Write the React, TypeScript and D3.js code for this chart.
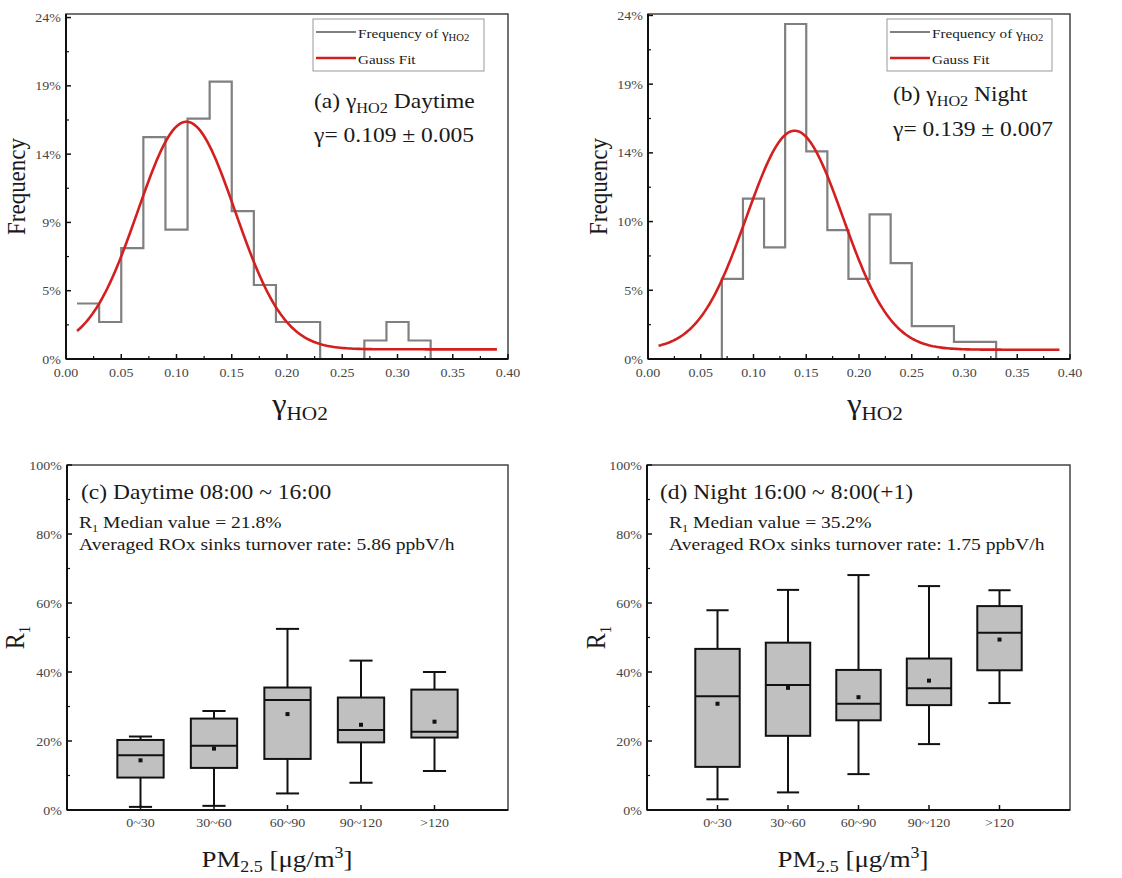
import React from 'react';
import * as d3 from 'd3';

const FONT = "'Liberation Serif','Times New Roman',Times,serif";
const SX = 1.12;

// ---------- Histogram data (frequency in %) ----------
const binEdges = [0.01, 0.03, 0.05, 0.07, 0.09, 0.11, 0.13, 0.15, 0.17, 0.19, 0.21, 0.23, 0.25, 0.27, 0.29, 0.31, 0.33];
const histDay = [3.9, 2.6, 7.8, 15.6, 9.1, 16.9, 19.5, 10.4, 5.2, 2.6, 2.6, 0, 0, 1.3, 2.6, 1.3];
const histNight = [0, 0, 0, 5.6, 11.2, 7.8, 23.4, 14.5, 9.0, 5.6, 10.1, 6.7, 2.3, 2.3, 1.2, 1.2];

// Gauss fit parameters
const gaussDay = { xc: 0.109, sigma: 0.0441, amp: 16.0, y0: 0.68 };
const gaussNight = { xc: 0.139, sigma: 0.0456, amp: 15.3, y0: 0.65 };
const gaussRange = [0.01, 0.39];

const xTicksHist = [0, 0.05, 0.1, 0.15, 0.2, 0.25, 0.3, 0.35, 0.4];
const xMinorHist = [0.025, 0.075, 0.125, 0.175, 0.225, 0.275, 0.325, 0.375];
const yTicksHist = [0, 4.8, 9.6, 14.4, 19.2, 24];
const yMinorHist = [2.4, 7.2, 12, 16.8, 21.6];
const yLabelsDay = ['0%', '5%', '9%', '14%', '19%', '24%'];
const yLabelsNight = ['0%', '5%', '10%', '14%', '19%', '24%'];

// ---------- Box plot data (R1 in %) ----------
const categories = ['0~30', '30~60', '60~90', '90~120', '>120'];
const dayMin = [0.9, 1.2, 4.8, 7.9, 11.3];
const dayQ1 = [9.4, 12.2, 14.8, 19.6, 21.0];
const dayMedian = [15.9, 18.6, 31.9, 23.2, 22.7];
const dayQ3 = [20.3, 26.5, 35.5, 32.6, 34.9];
const dayMax = [21.3, 28.7, 52.5, 43.3, 40.0];
const dayMean = [14.4, 17.8, 27.8, 24.7, 25.6];

const nightMin = [3.1, 5.1, 10.4, 19.1, 31.0];
const nightQ1 = [12.5, 21.5, 26.0, 30.4, 40.5];
const nightMedian = [33.0, 36.2, 30.8, 35.3, 51.4];
const nightQ3 = [46.7, 48.5, 40.6, 43.9, 59.1];
const nightMax = [57.9, 63.8, 68.1, 64.9, 63.7];
const nightMean = [30.8, 35.4, 32.7, 37.5, 49.4];

const yTicksBox = [0, 20, 40, 60, 80, 100];
const yMinorBox = [10, 30, 50, 70, 90];

function Txt({ x, y, size, anchor = 'start', fill = '#1a1a1a', rotate = 0, children }: any) {
  const tr = rotate
    ? `translate(${x},${y}) rotate(${rotate}) scale(1,${SX})`
    : `translate(${x},${y}) scale(${SX},1)`;
  return (
    <text transform={tr} fontSize={size} textAnchor={anchor} fill={fill} fontFamily={FONT}>
      {children}
    </text>
  );
}

function Frame({ left, right, top, bottom }: any) {
  return (
    <g>
      <rect x={left} y={top} width={right - left} height={bottom - top} fill="none" stroke="#444" strokeWidth={1.5} />
      <line x1={left} x2={right} y1={bottom} y2={bottom} stroke="#111" strokeWidth={2} />
      <line x1={left} x2={left} y1={top} y2={bottom} stroke="#111" strokeWidth={2} />
    </g>
  );
}

function HistPanel({ left, right, top, bottom, yMax, hist, gauss, yLabels, letter, title, gammaText, xLabelX, yLabelX, legL, legR, annX, annY1, annY2 }: any) {
  const x = d3.scaleLinear().domain([0, 0.4]).range([left, right]);
  const y = d3.scaleLinear().domain([0, yMax]).range([bottom, top]);
  let d = `M${x(binEdges[0])},${y(hist[0])}`;
  hist.forEach((v: number, i: number) => {
    d += `H${x(binEdges[i + 1])}`;
    if (i + 1 < hist.length) d += `V${y(hist[i + 1])}`;
  });
  d += `V${y(0)}`;
  const xs = d3.range(gaussRange[0], gaussRange[1] + 1e-9, 0.002);
  const g = (t: number) => gauss.y0 + gauss.amp * Math.exp(-((t - gauss.xc) ** 2) / (2 * gauss.sigma ** 2));
  const line = d3.line<number>().x((t) => x(t)).y((t) => y(g(t)));
  return (
    <g>
      <path d={d} fill="none" stroke="#808080" strokeWidth={2.2} />
      <path d={line(xs) || ''} fill="none" stroke="#d41f1f" strokeWidth={2.6} />
      <Frame left={left} right={right} top={top} bottom={bottom} />
      {yTicksHist.map((t, i) => (
        <g key={'y' + i}>
          <line x1={left} x2={left + 5} y1={y(t)} y2={y(t)} stroke="#111" strokeWidth={1.5} />
          <Txt x={left - 5} y={y(t) + 4.5} size={12.5} anchor="end" fill="#444">{yLabels[i]}</Txt>
        </g>
      ))}
      {yMinorHist.map((t, i) => (
        <line key={'ym' + i} x1={left} x2={left + 3} y1={y(t)} y2={y(t)} stroke="#111" strokeWidth={1.2} />
      ))}
      {xTicksHist.map((t, i) => (
        <g key={'x' + i}>
          <line x1={x(t)} x2={x(t)} y1={bottom} y2={bottom - 5} stroke="#111" strokeWidth={1.5} />
          <Txt x={x(t)} y={bottom + 18} size={12.5} anchor="middle" fill="#444">{t.toFixed(2)}</Txt>
        </g>
      ))}
      {xMinorHist.map((t, i) => (
        <line key={'xm' + i} x1={x(t)} x2={x(t)} y1={bottom} y2={bottom - 3} stroke="#111" strokeWidth={1.2} />
      ))}
      {/* legend */}
      <rect x={legL} y={top + 5} width={legR - legL} height={52} fill="#fff" stroke="#999" strokeWidth={1} />
      <line x1={legL + 3} x2={legL + 43} y1={top + 18} y2={top + 18} stroke="#808080" strokeWidth={2} />
      <line x1={legL + 3} x2={legL + 43} y1={top + 44} y2={top + 44} stroke="#d41f1f" strokeWidth={2.6} />
      <Txt x={legL + 45} y={top + 24} size={13.5}>
        Frequency of γ<tspan fontSize={9.5} dy={3}>HO2</tspan>
      </Txt>
      <Txt x={legL + 45} y={top + 50} size={13.5}>Gauss Fit</Txt>
      {/* annotation */}
      <Txt x={annX} y={annY1} size={21}>
        ({letter}) γ<tspan fontSize={14.5} dy={5}>HO2</tspan><tspan dy={-5}> {title}</tspan>
      </Txt>
      <Txt x={annX} y={annY2} size={21}>{gammaText}</Txt>
      {/* axis labels */}
      <Txt x={yLabelX} y={(top + bottom) / 2} size={23} anchor="middle" rotate={-90}>Frequency</Txt>
      <Txt x={xLabelX} y={bottom + 55} size={29} anchor="middle">
        γ<tspan fontSize={19} dy={6}>HO2</tspan>
      </Txt>
    </g>
  );
}

function BoxPanel({ left, right, top, bottom, mins, q1, med, q3, maxs, means, title, medianText, rateText, textX, subX, xLabelX, yLabelX }: any) {
  const x = d3.scaleLinear().domain([0, 6]).range([left, right]);
  const y = d3.scaleLinear().domain([0, 100]).range([bottom, top]);
  const step = x(1) - x(0);
  const bw = step * 0.63;
  const cw = bw * 0.5;
  return (
    <g>
      {categories.map((c, i) => {
        const cx = x(i + 1);
        return (
          <g key={c} stroke="#111" strokeWidth={2}>
            <line x1={cx} x2={cx} y1={y(q3[i])} y2={y(maxs[i])} />
            <line x1={cx} x2={cx} y1={y(q1[i])} y2={y(mins[i])} />
            <line x1={cx - cw / 2} x2={cx + cw / 2} y1={y(maxs[i])} y2={y(maxs[i])} />
            <line x1={cx - cw / 2} x2={cx + cw / 2} y1={y(mins[i])} y2={y(mins[i])} />
            <rect x={cx - bw / 2} y={y(q3[i])} width={bw} height={y(q1[i]) - y(q3[i])} fill="#c0c0c0" />
            <line x1={cx - bw / 2} x2={cx + bw / 2} y1={y(med[i])} y2={y(med[i])} />
            <rect x={cx - 2} y={y(means[i]) - 2} width={4} height={4} fill="#111" stroke="none" />
          </g>
        );
      })}
      <Frame left={left} right={right} top={top} bottom={bottom} />
      {yTicksBox.map((t) => (
        <g key={'y' + t}>
          <line x1={left} x2={left + 5} y1={y(t)} y2={y(t)} stroke="#111" strokeWidth={1.5} />
          <Txt x={left - 5} y={y(t) + 4.5} size={12.5} anchor="end" fill="#444">{t + '%'}</Txt>
        </g>
      ))}
      {yMinorBox.map((t) => (
        <line key={'ym' + t} x1={left} x2={left + 3} y1={y(t)} y2={y(t)} stroke="#111" strokeWidth={1.2} />
      ))}
      {categories.map((c, i) => (
        <g key={'x' + c}>
          <line x1={x(i + 1)} x2={x(i + 1)} y1={bottom} y2={bottom - 5} stroke="#111" strokeWidth={1.5} />
          <Txt x={x(i + 1)} y={bottom + 17} size={12.5} anchor="middle" fill="#444">{c}</Txt>
        </g>
      ))}
      <Txt x={textX} y={top + 34} size={21}>{title}</Txt>
      <Txt x={subX} y={top + 63} size={17.5}>
        R<tspan fontSize={11} dy={4}>1</tspan><tspan dy={-4}> Median value = {medianText}</tspan>
      </Txt>
      <Txt x={subX} y={top + 85} size={17.5}>Averaged ROx sinks turnover rate: {rateText}</Txt>
      <Txt x={yLabelX} y={(top + bottom) / 2} size={24} anchor="middle" rotate={-90}>
        R<tspan fontSize={15} dy={5}>1</tspan>
      </Txt>
      <Txt x={xLabelX} y={bottom + 57} size={24}  anchor="middle">
        PM<tspan fontSize={16} dy={5}>2.5</tspan><tspan dy={-5}> [μg/m</tspan><tspan fontSize={16} dy={-9}>3</tspan><tspan dy={9}>]</tspan>
      </Txt>
    </g>
  );
}

export default function App() {
  return (
    <svg width={1122} height={878} style={{ position: 'absolute', left: 0, top: 0, background: '#fff' }}>
      <rect x={0} y={0} width={1122} height={878} fill="#fff" />
      <HistPanel left={66} right={508} top={14} bottom={359} yMax={24.25} hist={histDay} gauss={gaussDay}
        yLabels={yLabelsDay} letter="a" title="Daytime" gammaText="γ= 0.109 ± 0.005" xLabelX={300} yLabelX={25}
        legL={313} legR={484} annX={314} annY1={108} annY2={142} />
      <HistPanel left={648} right={1070} top={14} bottom={359} yMax={24.1} hist={histNight} gauss={gaussNight}
        yLabels={yLabelsNight} letter="b" title="Night" gammaText="γ= 0.139 ± 0.007" xLabelX={875} yLabelX={607}
        legL={887} legR={1052} annX={893} annY1={101} annY2={136} />
      <BoxPanel left={67} right={508} top={465} bottom={810} mins={dayMin} q1={dayQ1} med={dayMedian} q3={dayQ3}
        maxs={dayMax} means={dayMean} title="(c) Daytime 08:00 ~ 16:00" medianText="21.8%" rateText="5.86 ppbV/h"
        textX={81} subX={79} xLabelX={277} yLabelX={24} />
      <BoxPanel left={647} right={1070} top={465} bottom={810} mins={nightMin} q1={nightQ1} med={nightMedian} q3={nightQ3}
        maxs={nightMax} means={nightMean} title="(d) Night 16:00 ~ 8:00(+1)" medianText="35.2%" rateText="1.75 ppbV/h"
        textX={660} subX={669} xLabelX={853} yLabelX={605} />
    </svg>
  );
}
